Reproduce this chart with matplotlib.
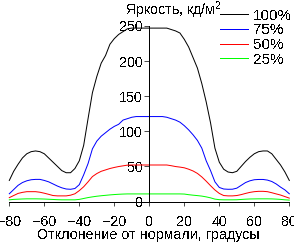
import matplotlib
matplotlib.use("Agg")
import matplotlib.pyplot as plt
import numpy as np

angles = np.arange(-80, 80.1, 2.5)

lum_100 = [30, 43, 53, 62, 68, 71, 72, 71, 68, 62, 56, 50, 44, 41, 41, 47, 58, 80, 118, 155,
           178, 197, 208, 224, 232, 238, 242, 246, 247, 247, 247, 247, 247, 247, 247, 247, 247,
           245, 243, 240, 231, 220, 205, 190, 168, 142, 112, 76, 56, 46, 42, 41, 43, 50, 57, 63,
           68, 71, 72, 72, 68, 60, 52, 42, 30]
lum_75 = [11, 17, 23, 27, 29.5, 31, 31.5, 31.5, 30, 28, 25, 22, 19.5, 17.8, 17.4, 18.5, 24, 38,
          54, 75, 86, 93, 98, 103, 107, 110, 116, 118, 120, 121, 121, 121, 121, 121, 121, 121,
          120, 118, 116, 113, 108, 102, 95, 87, 76, 58, 44, 28, 20, 17.8, 17.4, 17.5, 19, 23, 27,
          29.5, 31, 31.4, 31.4, 30.5, 28.5, 25, 20.5, 16.5, 11]
lum_50 = [5.5, 8.5, 11.5, 13, 14, 14, 14, 13.2, 11.8, 10.2, 8.5, 8, 8, 8, 9, 11, 15.5, 21, 28,
          35.5, 39.8, 43, 45, 47, 48.5, 49.8, 50.8, 51.8, 52, 52, 52, 52, 52, 52, 52, 52, 52,
          51, 49.8, 49, 48, 46, 43.5, 40, 35, 29, 22.5, 16.4, 11.5, 8.5, 8, 8, 8.5, 9.8, 11.5,
          13, 14, 14.5, 14.5, 14, 12.5, 10.8, 9.2, 7, 4.8]
lum_25 = [2.4, 3, 3.3, 3.6, 3.8, 3.8, 3.8, 3.7, 3.5, 3.2, 2.9, 2.6, 2.4, 2.4, 2.4, 2.4, 3, 4.3,
          5.6, 6.6, 7.5, 8.2, 8.8, 9.4, 9.9, 10.3, 10.6, 10.8, 10.8, 10.8, 10.8, 10.8, 10.8,
          10.8, 10.8, 10.8, 10.8, 10.8, 10.8, 10.8, 10.6, 9.7, 9, 8.4, 7.7, 6.6, 5.2, 3.4, 2.6,
          2.4, 2.4, 2.4, 2.5, 2.9, 3.3, 3.6, 3.7, 3.8, 3.8, 3.8, 3.7, 3.4, 3, 2.4, 2]

series = [lum_100, lum_75, lum_50, lum_25]
labels = ["100%", "75%", "50%", "25%"]
colors = ["#000000", "#0000ff", "#ff0000", "#00ff00"]
xticks = [-80, -60, -40, -20, 0, 20, 40, 60, 80]
yticks = [0, 50, 100, 150, 200, 250]

plt.rcParams['font.family'] = ['Liberation Sans', 'DejaVu Sans']
plt.rcParams['font.size'] = 10.3
plt.rcParams['text.antialiased'] = False
plt.rcParams['mathtext.fontset'] = 'custom'
plt.rcParams['mathtext.rm'] = 'Liberation Sans'

W, H = 294, 242
fig = plt.figure(figsize=(W / 100, H / 100), dpi=100)
x0, x1 = 9.3, 289.3
y0, y1 = 201.5, 26.0
ax = fig.add_axes([x0 / W, 1 - y0 / H, (x1 - x0) / W, (y0 - y1) / H])

LW = 0.5
for vals, lab, col in zip(series, labels, colors):
    ax.plot(angles, vals, color=col, lw=0.72, label=lab, antialiased=True, clip_on=False)

ax.set_xlim(-80, 80)
ax.set_ylim(0, 250)
ax.set_xticks(xticks)
ax.set_yticks(yticks)
ax.spines['top'].set_visible(False)
ax.spines['right'].set_visible(False)
ax.spines['left'].set_position(('data', 0))
for s in ('left', 'bottom'):
    ax.spines[s].set_linewidth(LW)
    ax.spines[s].set_antialiased(False)
ax.tick_params(axis='x', direction='out', length=3, width=LW, pad=7)
ax.tick_params(axis='y', direction='out', length=3.6, width=LW, pad=1)
ax.patch.set_visible(False)

fig.text(125 / W, 1 - 15 / H, "Яркость, кд/м$^2$", ha='left', va='baseline')
fig.text(148.5 / W, 1 - 235 / H, "Отклонение от нормали, градусы", ha='center', va='center')

leg = ax.legend(loc='upper left', bbox_to_anchor=(220 / W, 1 - 8.5 / H), bbox_transform=fig.transFigure,
                frameon=False, borderpad=0, borderaxespad=0, handlelength=1.85, handletextpad=0.3,
                labelspacing=0.05, fontsize=11)
for line in leg.get_lines():
    line.set_linewidth(LW)
    line.set_antialiased(False)

fig.savefig("out.png", dpi=100)
